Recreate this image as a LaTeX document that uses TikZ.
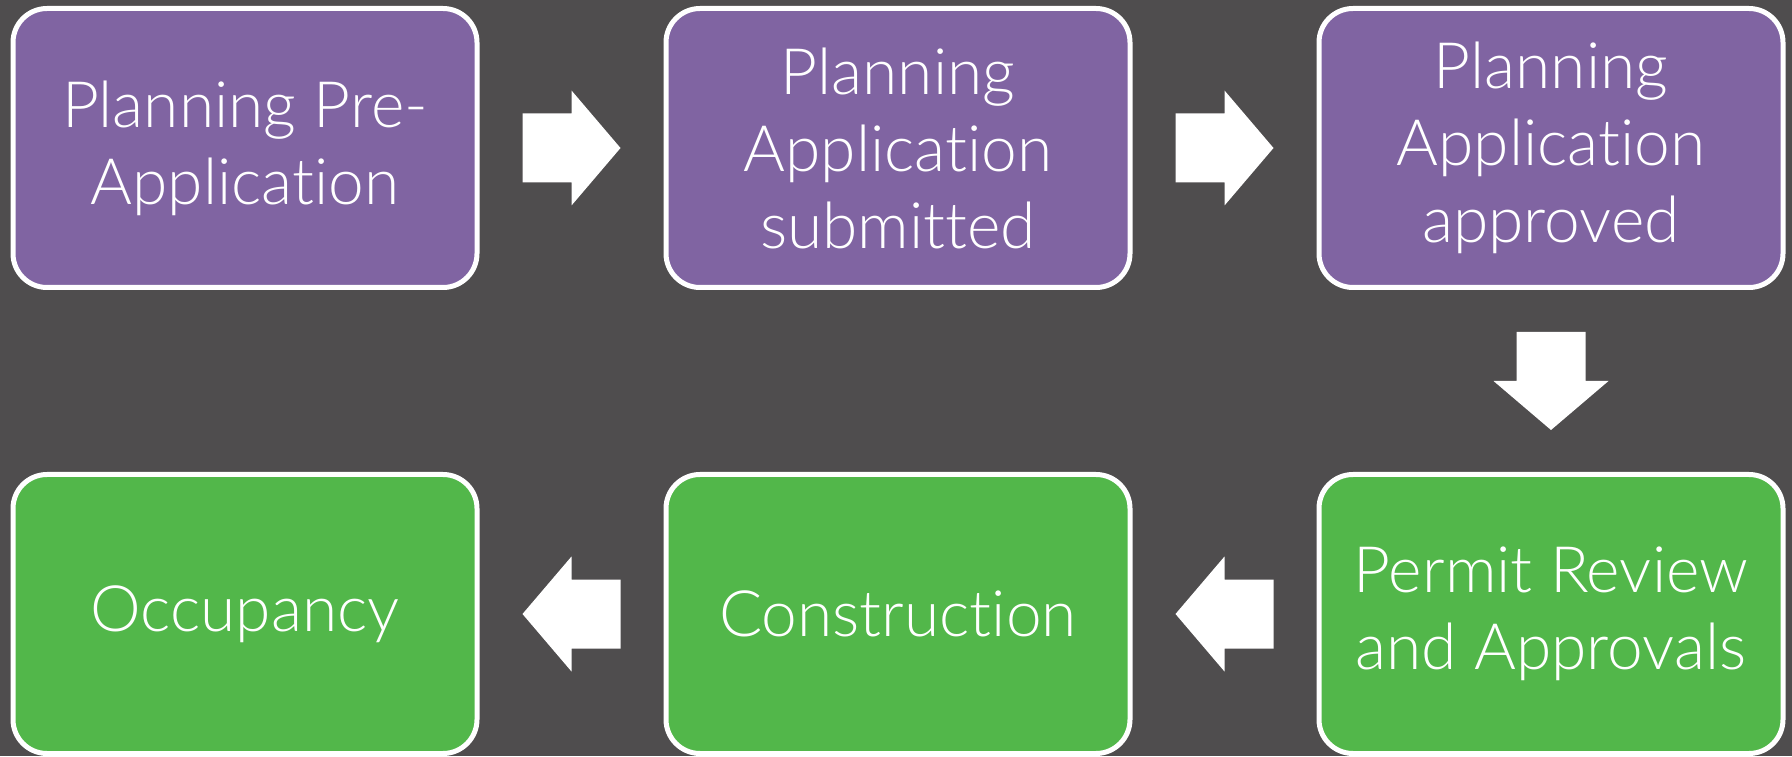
\documentclass[tikz,border=0pt]{standalone}
\usepackage{fontspec}
\setmainfont{Lato}[UprightFont=* Light, Ligatures={NoCommon,NoDiscretionary}]
\usetikzlibrary{calc}
\definecolor{bgdark}{RGB}{79,77,78}
\definecolor{stagepurple}{RGB}{128,100,162}
\definecolor{stagegreen}{RGB}{82,183,74}
\tikzset{
  stagebox/.style={rectangle, rounded corners=34pt, draw=white, line width=5pt,
    minimum width=464pt, minimum height=279pt, inner sep=0pt, align=center,
    text=white, font=\fontsize{64}{77}\selectfont},
  planbox/.style={stagebox, fill=stagepurple},
  buildbox/.style={stagebox, fill=stagegreen},
  blockarrow/.pic={
    \fill[white] (-49pt,34.5pt) -- (0pt,34.5pt) -- (0pt,57.5pt) -- (49pt,0pt)
      -- (0pt,-57.5pt) -- (0pt,-34.5pt) -- (-49pt,-34.5pt) -- cycle;
  }
}
\begin{document}
\begin{tikzpicture}[x=1pt,y=1pt]
  \fill[bgdark] (0,0) rectangle (1792,756);
  \useasboundingbox (0,0) rectangle (1792,756);

  % planning stages (top row)
  \node[planbox] (pre) at (245,608) {Planning Pre-\\Application};
  \node[planbox] (sub) at (898,608) {Planning\\Application\\submitted};
  \node[planbox] (app) at (1551,608) {Planning\\Application\\approved};

  % building stages (bottom row)
  \node[buildbox] (perm) at (1551,142) {Permit Review\\and Approvals};
  \node[buildbox] (cons) at (898,142) {Construction};
  \node[buildbox] (occ) at (245,142) {Occupancy};

  % flow arrows
  \pic at ($(pre.east)!0.5!(sub.west)$) {blockarrow};
  \pic at ($(sub.east)!0.5!(app.west)$) {blockarrow};
  \pic[rotate=-90] at ($(app.south)!0.5!(perm.north)$) {blockarrow};
  \pic[rotate=180] at ($(perm.west)!0.5!(cons.east)$) {blockarrow};
  \pic[rotate=180] at ($(cons.west)!0.5!(occ.east)$) {blockarrow};
\end{tikzpicture}
\end{document}
